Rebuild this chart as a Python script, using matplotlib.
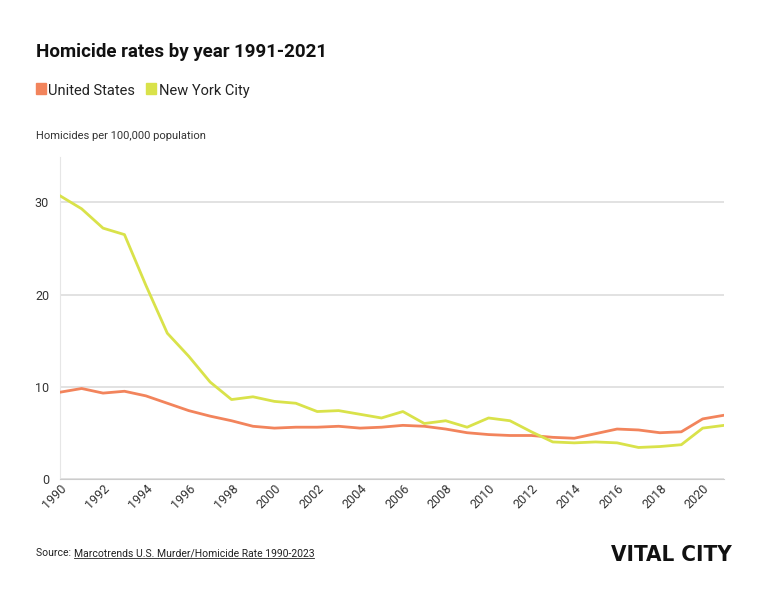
import matplotlib.pyplot as plt

years = list(range(1990, 2022))
us_rate = [9.4, 9.8, 9.3, 9.5, 9.0, 8.2, 7.4, 6.8, 6.3, 5.7, 5.5, 5.6, 5.6, 5.7, 5.5, 5.6,
           5.8, 5.7, 5.4, 5.0, 4.8, 4.7, 4.7, 4.5, 4.4, 4.9, 5.4, 5.3, 5.0, 5.1, 6.5, 6.9]
nyc_rate = [30.7, 29.3, 27.2, 26.5, 21.0, 15.8, 13.3, 10.5, 8.6, 8.9, 8.4, 8.2, 7.3, 7.4, 7.0, 6.6,
            7.3, 6.0, 6.3, 5.6, 6.6, 6.3, 5.1, 4.0, 3.9, 4.0, 3.9, 3.4, 3.5, 3.7, 5.5, 5.8]
US_COLOR = '#f2845c'
NYC_COLOR = '#d9e24a'

plt.rcParams['font.family'] = ['Roboto', 'DejaVu Sans']
fig = plt.figure(figsize=(7.82, 6), dpi=100)
ax = fig.add_axes([0.077, 0.202, 0.849, 0.536])

ax.plot(years, us_rate, color=US_COLOR, lw=2, solid_joinstyle='round', zorder=3)
ax.plot(years, nyc_rate, color=NYC_COLOR, lw=2, solid_joinstyle='round', zorder=3)

ax.set_xlim(1990, 2021)
ax.set_ylim(0, 34.9)
ax.set_yticks([0, 10, 20, 30])
ax.set_xticks(range(1990, 2021, 2))
ax.tick_params(axis='x', rotation=45, labelsize=9, colors='#333333', length=0, pad=2)
ax.tick_params(axis='y', labelsize=9, colors='#333333', length=0, pad=8)
for lab in ax.get_xticklabels():
    lab.set_ha('right')
    lab.set_rotation_mode('anchor')
ax.grid(axis='y', color='#dddddd', lw=1.2)
ax.set_axisbelow(True)
for s in ['top', 'right']:
    ax.spines[s].set_visible(False)
ax.spines['left'].set_color('#e6e6e6')
ax.spines['bottom'].set_color('#cccccc')

fig.text(0.046, 0.905, 'Homicide rates by year 1991-2021', fontsize=13.5, fontweight='bold', color='#111111')
fig.patches.append(plt.Rectangle((0.046, 0.843), 0.013, 0.018, color=US_COLOR, transform=fig.transFigure))
fig.text(0.062, 0.841, 'United States', fontsize=10.5, color='#222222')
fig.patches.append(plt.Rectangle((0.187, 0.843), 0.013, 0.018, color=NYC_COLOR, transform=fig.transFigure))
fig.text(0.203, 0.841, 'New York City', fontsize=10.5, color='#222222')
fig.text(0.046, 0.768, 'Homicides per 100,000 population', fontsize=8, color='#333333')

fig.text(0.046, 0.073, 'Source: ', fontsize=7.5, color='#222222')
fig.text(0.094, 0.073, 'Marcotrends U.S. Murder/Homicide Rate 1990-2023', fontsize=7.5, color='#222222')
fig.add_artist(plt.Line2D([0.094, 0.402], [0.070, 0.070], color='#222222', lw=0.6))
fig.text(0.936, 0.065, 'VITAL CITY', fontsize=16, fontweight='bold', color='#111111',
         ha='right', family=['DejaVu Sans'], stretch='condensed')

fig.savefig('out.png', dpi=100, facecolor='white')
